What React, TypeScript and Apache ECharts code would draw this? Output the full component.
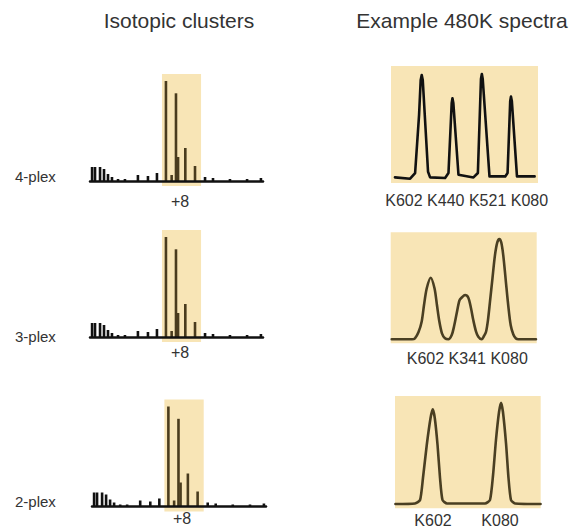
import React, { useEffect, useRef } from "react";
import * as echarts from "echarts";

// ---- Isotopic cluster (stick spectrum), arbitrary m/z position units 0..100 ----
const clusterPositions = [1.2, 2.9, 5.8, 8.1, 10.4, 12.7, 16.2, 20.2, 27.7, 33.5, 38.7, 43.9, 47.2, 49.7, 50.9, 55.1, 60.7, 66.5, 71.1, 80.9, 90.8, 98.8];
const clusterIntensities = [14, 14, 14, 12, 7, 4, 2, 2, 6, 5, 8, 100, 6, 87.7, 24, 33, 15, 4, 3, 2, 2, 3];
const highlightRange = [41.6, 64.2];
const shiftLabel = "+8";
const plexLabels = ["4-plex", "3-plex", "2-plex"];

// ---- Example 480K spectra: [m/z position, intensity] ----
const spectrum4plex = [
  [2.7, 0.3], [13.0, -1], [16.4, 4.7], [19.1, 63], [20.2, 98], [20.9, 103], [21.6, 98], [25.2, 6], [26.6, 0.3],
  [36.8, -0.3], [39.1, 4.7], [41.3, 75], [41.8, 79.7], [42.4, 75], [45.9, 3],
  [56.1, 0.3], [59.1, 4.7], [61.2, 99], [61.8, 104], [62.4, 99], [67.0, 1.3],
  [77.7, 1.3], [79.3, 4.7], [81.1, 77], [81.6, 81.3], [82.2, 77], [85.7, 1.3], [97.7, 1.3],
];
const spectrum3plex = [
  [0.7, 0], [14.6, 0], [16.6, 1], [19.0, 7], [21.2, 17.6], [22.8, 34], [24.7, 51], [27.4, 61.6], [30.0, 51],
  [31.7, 34], [33.3, 18], [35.1, 6], [37.2, 1], [39.5, 0], [41.8, 4.3], [43.4, 13], [45.2, 26], [47.1, 39],
  [48.7, 41.8], [50.9, 44.3], [53.1, 41.8], [55.0, 31], [56.6, 19], [58.4, 8], [60.0, 2.6], [62.3, 0],
  [63.9, 3.3], [65.3, 7.6], [66.6, 19], [68.0, 37.6], [69.7, 61], [71.4, 84], [73.0, 97], [74.4, 100.3],
  [75.7, 97], [77.1, 84], [78.8, 59], [80.5, 34], [82.2, 14], [84.0, 4.8], [85.8, 0.8], [87.4, 0], [99.5, 0],
];
const spectrum2plex = [
  [0.3, 0], [13.7, 0.5], [17.2, 4], [19.2, 26], [21.8, 59], [24.4, 86], [25.9, 94.7], [27.3, 86], [29.2, 59],
  [30.9, 26], [32.6, 4], [35.7, 0.5], [61.8, 0.5], [65.2, 4], [67.3, 29], [69.3, 64], [71.4, 92], [72.8, 101.3],
  [74.1, 92], [76.2, 60.7], [77.9, 26], [79.6, 4], [82.4, 0.5], [99.9, 0],
];
const channels4 = ["K602", "K440", "K521", "K080"];
const channels3 = ["K602", "K341", "K080"];
const channels2 = ["K602", "K080"];

const FONT = '"Liberation Sans", Arial, Helvetica, sans-serif';
const SHADE = "#f8e5b6";

export default function App() {
  const ref = useRef<HTMLDivElement>(null);
  useEffect(() => {
    if (!ref.current) return;
    const chart = echarts.init(ref.current, undefined, { renderer: "svg" });

    const clusterGrids = [
      { left: 90, top: 74, width: 173, height: 112 },
      { left: 90, top: 230, width: 173, height: 112 },
      { left: 92, top: 399.5, width: 174, height: 112 },
    ];
    const spectrumGrids = [
      { left: 391, top: 66, width: 147, height: 117 },
      { left: 390.7, top: 232.3, width: 146, height: 111 },
      { left: 395, top: 396, width: 145.7, height: 112.3 },
    ];
    const spectrumY = [
      [-5.3, 112],
      [-4, 107],
      [-4.3, 108],
    ];
    const spectra = [spectrum4plex, spectrum3plex, spectrum2plex];
    const spectrumColors = ["#111111", "#4a3f22", "#4a3f22"];
    const spectrumSmooth = [false, 0.3, 0.2];

    const grid: any[] = [];
    const xAxis: any[] = [];
    const yAxis: any[] = [];
    const series: any[] = [];

    clusterGrids.forEach((g, i) => {
      grid.push({ ...g, show: false, containLabel: false });
      xAxis.push({
        type: "value", gridIndex: i, min: 0, max: 100, z: 5,
        axisLine: { show: true, onZero: true, lineStyle: { color: "#111", width: 2.5 } },
        axisTick: { show: false }, axisLabel: { show: false }, splitLine: { show: false },
      });
      yAxis.push({ type: "value", gridIndex: i, min: -5, max: 107, show: false, splitLine: { show: false } });
      series.push({
        type: "line", xAxisIndex: i, yAxisIndex: i, data: [], z: 1, silent: true,
        markArea: {
          silent: true,
          itemStyle: { color: SHADE },
          data: [[{ xAxis: highlightRange[0] }, { xAxis: highlightRange[1] }]],
        },
      });
      series.push({
        type: "bar", xAxisIndex: i, yAxisIndex: i, barWidth: 2.6, z: 3, silent: true,
        data: clusterPositions.map((x, k) => ({
          value: [x, clusterIntensities[k]],
          itemStyle: {
            color: x >= highlightRange[0] && x <= highlightRange[1] ? "#4a3c1e" : "#111",
          },
        })),
      });
    });

    spectrumGrids.forEach((g, j) => {
      const i = j + 3;
      grid.push({ ...g, show: true, backgroundColor: SHADE, borderWidth: 0 });
      xAxis.push({ type: "value", gridIndex: i, min: 0, max: 100, show: false, splitLine: { show: false } });
      yAxis.push({ type: "value", gridIndex: i, min: spectrumY[j][0], max: spectrumY[j][1], show: false, splitLine: { show: false } });
      series.push({
        type: "line", xAxisIndex: i, yAxisIndex: i, data: spectra[j], showSymbol: false, silent: true,
        smooth: spectrumSmooth[j],
        lineStyle: { color: spectrumColors[j], width: 2.6, join: "round", cap: "round" },
      });
    });

    const text = (t: string, x: number, y: number, size: number, align = "center") => ({
      type: "text", x, y, silent: true,
      style: { text: t, font: `${size}px ${FONT}`, fill: "#333", textAlign: align, textVerticalAlign: "middle" },
    });

    const graphic: any[] = [
      text("Isotopic clusters", 179, 20, 21),
      text("Example 480K spectra", 462, 20, 21),
      text(plexLabels[0], 15, 176, 15, "left"),
      text(plexLabels[1], 15, 336, 15, "left"),
      text(plexLabels[2], 15, 501, 15, "left"),
      text(shiftLabel, 180, 201, 16),
      text(shiftLabel, 180, 352.5, 16),
      text(shiftLabel, 182, 518, 16),
      text(channels4.join(" "), 466.7, 200, 16),
      text(channels3.join(" "), 467.3, 358.3, 16),
      text(channels2[0], 433, 520, 16),
      text(channels2[1], 500, 520, 16),
    ];

    chart.setOption({ animation: false, grid, xAxis, yAxis, series, graphic });
    return () => chart.dispose();
  }, []);
  return <div ref={ref} style={{ position: "fixed", left: 0, top: 0, width: 575, height: 531, background: "#fff" }} />;
}
